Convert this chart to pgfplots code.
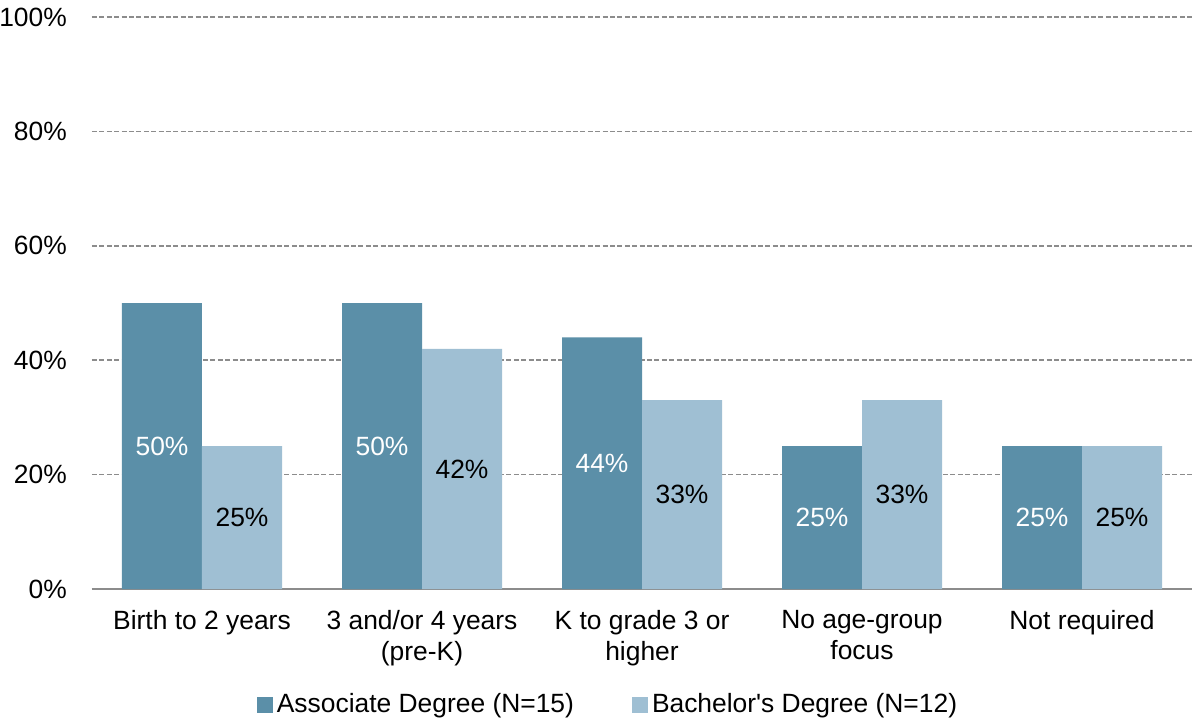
\documentclass[border=0pt]{standalone}
\usepackage{pgfplots}
\pgfplotsset{compat=1.18}
\usepackage{fontspec}
\setmainfont{Liberation Sans}
\definecolor{darkbar}{HTML}{5B8FA8}
\definecolor{lightbar}{HTML}{9FBFD3}
\definecolor{gridgray}{HTML}{8C8C8C}
\begin{document}
\fontsize{13.2}{15.5}\selectfont
\begin{tikzpicture}
\begin{axis}[
  at={(0,0)}, anchor=south west,
  scale only axis, width=550pt, height=286pt,
  /pgf/number format/assume math mode=true,
  font=\fontsize{13.2}{15.5}\selectfont,
  ybar=0pt, bar width=40pt,
  xmin=-0.5, xmax=4.5, ymin=0, ymax=100,
  xtick={0,1,2,3,4},
  xticklabels={Birth to 2 years, {3 and/or 4 years\\(pre-K)}, {K to grade 3 or\\higher}, {No age-group\\focus}, Not required},
  xticklabel style={align=center, yshift=-6pt},
  ytick={0,20,40,60,80,100},
  yticklabel={\pgfmathprintnumber{\tick}\%},
  yticklabel style={xshift=-8pt},
  major tick length=0pt,
  axis y line*=left,
  y axis line style={draw=none},
  axis x line*=bottom,
  x axis line style={draw=gridgray, line width=0.9pt, -},
  ymajorgrids,
  grid style={draw=gridgray, line width=0.75pt, dash pattern=on 2.5pt off 1.2pt},
  legend columns=2,
  legend style={draw=none, at={(0.47,-0.203)}, anchor=center, font=\fontsize{13.2}{15.5}\selectfont,
    /tikz/every even column/.append style={column sep=27pt}},
  legend image code/.code={\fill[#1,draw=none] (0pt,-4pt) rectangle (8pt,4pt);},
  nodes near coords={\pgfmathprintnumber{\pgfplotspointmeta}\%},
  visualization depends on=y \as \rawy,
  every node near coord/.append style={anchor=center, font=\fontsize{13.2}{15.5}\selectfont, shift={(axis direction cs:0,-\rawy/2)}},
]
\addplot[fill=darkbar, draw=none, every node near coord/.append style={text=white}] coordinates {(0,50) (1,50) (2,44) (3,25) (4,25)};
\addplot[fill=lightbar, draw=none, every node near coord/.append style={text=black}] coordinates {(0,25) (1,42) (2,33) (3,33) (4,25)};
\legend{Associate Degree (N=15), Bachelor\textquotesingle s Degree (N=12)}
\end{axis}
\pgfresetboundingbox
\useasboundingbox (-46pt,-67.5pt) rectangle (550pt,294.5pt);
\end{tikzpicture}
\end{document}
